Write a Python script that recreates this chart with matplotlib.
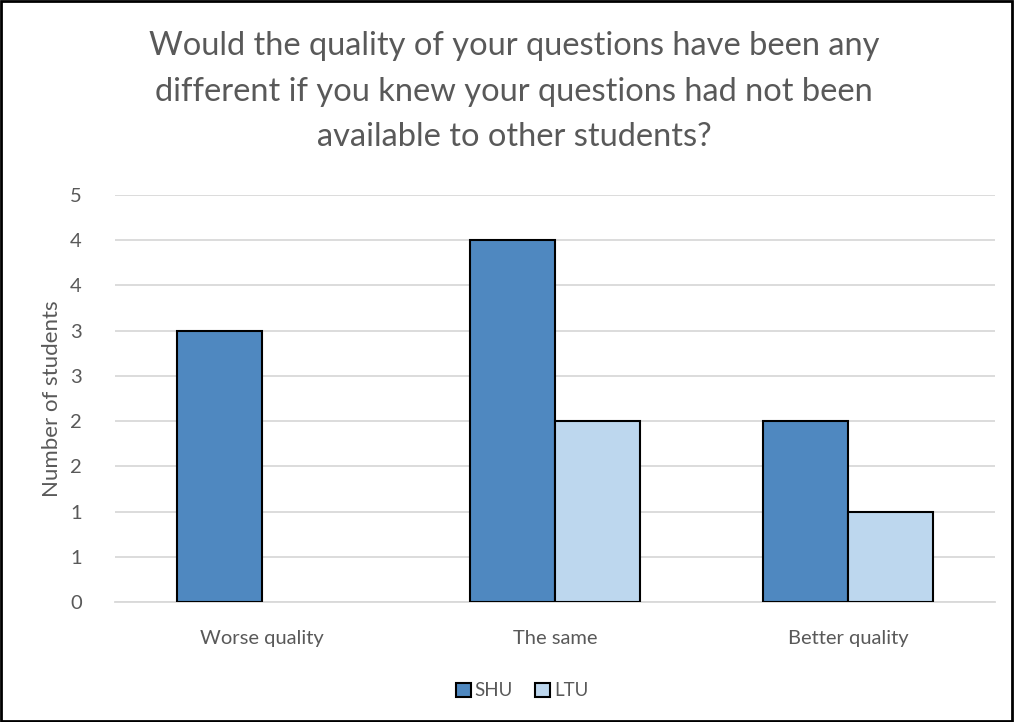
import matplotlib
matplotlib.use('Agg')
import matplotlib.pyplot as plt
import numpy as np
from matplotlib.patches import Rectangle

categories = ['Worse quality', 'The same', 'Better quality']
shu = [3, 4, 2]
ltu = [0, 2, 1]
series_names = ['SHU', 'LTU']
y_ticks = [0, 0.5, 1, 1.5, 2, 2.5, 3, 3.5, 4, 4.5]
# Excel shows the half steps rounded to whole numbers
y_tick_labels = ['0', '1', '1', '2', '2', '3', '3', '4', '4', '5']

plt.rcParams['font.family'] = ['Lato', 'DejaVu Sans']
text_color = '#595959'
shu_color = '#4F88C0'
ltu_color = '#BDD7EE'

fig = plt.figure(figsize=(10.14, 7.22), dpi=100)
ax = fig.add_axes([0.1134, 0.1662, 0.8676, 0.5637])

x = np.arange(len(categories))
w = 0.29
bars1 = ax.bar(x - w / 2, shu, w, color=shu_color, edgecolor='black', linewidth=1.5, label=series_names[0], zorder=3)
bars2 = ax.bar(x + w / 2, ltu, w, color=ltu_color, edgecolor='black', linewidth=1.5, label=series_names[1], zorder=3)
# zero-height bars show nothing in the original
for b in list(bars1) + list(bars2):
    if b.get_height() == 0:
        b.set_linewidth(0)

ax.set_xlim(-0.5, 2.5)
ax.set_ylim(0, 4.5)
ax.set_yticks(y_ticks)
ax.set_yticklabels(y_tick_labels)
ax.set_xticks(x)
ax.set_xticklabels(categories)
ax.tick_params(axis='both', length=0, labelsize=14.5, colors=text_color)
ax.tick_params(axis='y', pad=24)
ax.tick_params(axis='x', pad=20)
ax.yaxis.grid(True, color='#D9D9D9', linewidth=1.3, zorder=0)
for s in ['top', 'right', 'left']:
    ax.spines[s].set_visible(False)
ax.spines['bottom'].set_color('#D9D9D9')
ax.spines['bottom'].set_linewidth(1.3)

ax.set_ylabel('Number of students', fontsize=16, color=text_color, labelpad=6)

fig.text(0.507, 0.957, 'Would the quality of your questions have been any\n'
         'different if you knew your questions had not been\n'
         'available to other students?',
         ha='center', va='top', fontsize=23.5, color=text_color, linespacing=1.65)

leg = fig.legend(loc='center', bbox_to_anchor=(0.515, 0.043), ncol=2, frameon=False,
                 fontsize=13.5, handlelength=0.8, handleheight=0.8, handletextpad=0.2,
                 columnspacing=1.2)
for t in leg.get_texts():
    t.set_color(text_color)
for h in leg.get_patches():
    h.set_edgecolor('black')
    h.set_linewidth(1.5)

fig.patches.append(Rectangle((0.001, 0.002), 0.997, 0.996, transform=fig.transFigure,
                             fill=False, edgecolor='black', linewidth=2))

fig.savefig('out.png', dpi=100)
